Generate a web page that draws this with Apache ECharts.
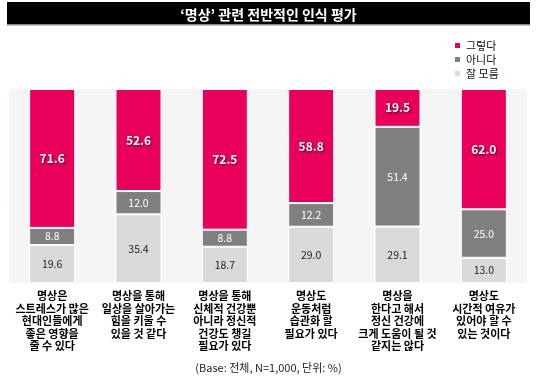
<!DOCTYPE html>
<html><head><meta charset="utf-8">
<script src="https://cdn.jsdelivr.net/npm/echarts@6/dist/echarts.min.js"></script>
<style>html,body{margin:0;padding:0;background:#fff}#c{width:537px;height:386px}</style>
</head><body><div id="c"></div>
<script>
const categories = [
  '명상은\n스트레스가 많은\n현대인들에게\n좋은 영향을\n줄 수 있다',
  '명상을 통해\n일상을 살아가는\n힘을 키울 수\n있을 것 같다',
  '명상을 통해\n신체적 건강뿐\n아니라 정신적\n건강도 챙길\n필요가 있다',
  '명상도\n운동처럼\n습관화 할\n필요가 있다',
  '명상을\n한다고 해서\n정신 건강에\n크게 도움이 될 것\n같지는 않다',
  '명상도\n시간적 여유가\n있어야 할 수\n있는 것이다'
];
const seriesNames = ['그렇다', '아니다', '잘 모름'];
const yes = [71.6, 52.6, 72.5, 58.8, 19.5, 62.0];
const no = [8.8, 12.0, 8.8, 12.2, 51.4, 25.0];
const dunno = [19.6, 35.4, 18.7, 29.0, 29.1, 13.0];
const titleText = '‘명상’ 관련 전반적인 인식 평가';
const footText = '(Base: 전체, N=1,000, 단위: %)';

const FONT = '"Noto Sans CJK KR", "Noto Sans", sans-serif';
const chart = echarts.init(document.getElementById('c'));
const fmt = p => p.value.toFixed(1);
chart.setOption({
  animation: false,
  textStyle: { fontFamily: FONT },
  title: {
    text: titleText, left: 'center', top: 3,
    textStyle: { color: '#fff', fontSize: 14, fontWeight: 'bold', fontFamily: FONT }
  },
  graphic: [
    { type: 'rect', z: -1, shape: { x: 7, y: 2, width: 523, height: 22 }, style: { fill: '#000' } },
    { type: 'rect', z: -1, shape: { x: 7, y: 24, width: 523, height: 1.5 }, style: { fill: '#888' } },
    { type: 'text', left: 'center', top: 362, style: { text: footText, fill: '#222', font: '11px ' + FONT } }
  ],
  legend: {
    orient: 'vertical', left: 448, top: 35, itemWidth: 7, itemHeight: 7, itemGap: 3,
    icon: 'rect', data: seriesNames,
    textStyle: { fontSize: 11, color: '#111', fontFamily: FONT }
  },
  grid: { left: 9, right: 10, top: 89, bottom: 103, show: true, backgroundColor: '#f5f5f5', borderWidth: 0 },
  xAxis: {
    type: 'category', data: categories,
    axisLine: { show: false }, axisTick: { show: false },
    axisLabel: { interval: 0, margin: 7, fontSize: 11, lineHeight: 12.5, color: '#000', fontWeight: 'bold', fontFamily: FONT, verticalAlign: 'top' }
  },
  yAxis: { type: 'value', min: 0, max: 100, show: false, splitLine: { show: false } },
  series: [
    {
      name: seriesNames[2], type: 'bar', stack: 's', data: dunno, barWidth: 46,
      itemStyle: { color: '#d9d9d9', borderColor: '#fff', borderWidth: 1 },
      label: { show: true, position: 'inside', formatter: fmt, color: '#222', fontSize: 10.5, fontFamily: FONT }
    },
    {
      name: seriesNames[1], type: 'bar', stack: 's', data: no, barWidth: 46,
      itemStyle: { color: '#7f7f7f', borderColor: '#fff', borderWidth: 1 },
      label: { show: true, position: 'inside', formatter: fmt, color: '#fff', fontSize: 10.5, fontFamily: FONT }
    },
    {
      name: seriesNames[0], type: 'bar', stack: 's', data: yes, barWidth: 46,
      itemStyle: { color: '#e8005a', borderColor: '#fff', borderWidth: 1 },
      label: { show: true, position: 'inside', formatter: fmt, color: '#fff', fontSize: 12, fontWeight: 'bold', fontFamily: FONT,
        textShadowColor: 'rgba(0,0,0,0.6)', textShadowBlur: 2, textShadowOffsetX: 1, textShadowOffsetY: 1 }
    }
  ]
});
</script></body></html>
